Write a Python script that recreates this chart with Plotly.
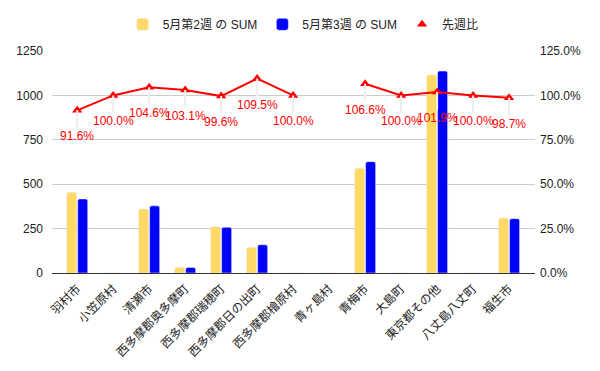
import plotly.graph_objects as go

categories = ["羽村市", "小笠原村", "清瀬市", "西多摩郡奥多摩町", "西多摩郡瑞穂町",
              "西多摩郡日の出町", "西多摩郡檜原村", "青ヶ島村", "青梅市", "大島町",
              "東京都その他", "八丈島八丈町", "福生市"]
week2 = [455, 0, 361, 32, 261, 145, 0, 0, 590, 0, 1116, 0, 310]
week3 = [417, 0, 378, 31, 257, 159, 0, 0, 627, 0, 1137, 0, 306]
ratio = [91.6, 100.0, 104.6, 103.1, 99.6, 109.5, 100.0, None, 106.6, 100.0, 101.9, 100.0, 98.7]
left_ticks = [0, 250, 500, 750, 1000, 1250]
right_ticks = [0, 25, 50, 75, 100, 125]

names = ["5月第2週 の SUM", "5月第3週 の SUM", "先週比"]
FONT = "Liberation Sans, Arial, Noto Sans CJK JP, sans-serif"
YELLOW = "#FFD966"
BLUE = "#0000FF"
RED = "#FF0000"

fig = go.Figure()
fig.add_trace(go.Bar(x=categories, y=week2, name=names[0], marker_color=YELLOW))
fig.add_trace(go.Bar(x=categories, y=week3, name=names[1], marker_color=BLUE))
fig.add_trace(go.Scatter(x=categories, y=ratio, yaxis="y2", mode="lines",
                         line=dict(color=RED, width=2), connectgaps=False,
                         showlegend=False, hoverinfo="skip"))
fig.add_trace(go.Scatter(x=categories, y=ratio, yaxis="y2", mode="markers", name=names[2],
                         marker=dict(symbol="triangle-up", size=9, color=RED)))

for c, r in zip(categories, ratio):
    if r is None:
        continue
    fig.add_annotation(x=c, y=r, yref="y2", text=f"{r:.1f}%", showarrow=True,
                       arrowhead=0, arrowwidth=2, arrowcolor="#EEEEEE", ax=0, ay=26,
                       font=dict(color=RED, size=12, family=FONT))

fig.update_layout(
    width=600, height=371,
    margin=dict(l=52, r=65, t=51, b=98, autoexpand=False),
    paper_bgcolor="white", plot_bgcolor="white",
    font=dict(family=FONT, size=12, color="#222222"),
    barmode="group", bargap=0.39, bargroupgap=0.09, barcornerradius=2,
    showlegend=True,
    legend=dict(orientation="h", x=0.52, xanchor="center", y=1.12, yanchor="middle",
                font=dict(size=12, color="#222222"), traceorder="normal",
                itemwidth=30, tracegroupgap=0),
    xaxis=dict(range=[-0.7, 12.72], tickangle=-45, showline=True, linecolor="#333333",
               linewidth=1, ticks="", showgrid=False, tickfont=dict(size=12),
               automargin=False, ticklabelstandoff=3),
    yaxis=dict(range=[0, 1250], tickvals=left_ticks, automargin=False,
               gridcolor="#CCCCCC", zeroline=False, ticks="", tickfont=dict(size=12),
               ticklabelstandoff=8),
    yaxis2=dict(range=[0, 125], overlaying="y", side="right", automargin=False,
                tickvals=right_ticks, ticktext=[f"{v:.1f}%" for v in right_ticks],
                showgrid=False, zeroline=False, ticks="", tickfont=dict(size=12),
                ticklabelstandoff=4),
)

fig.write_html("out.html")
